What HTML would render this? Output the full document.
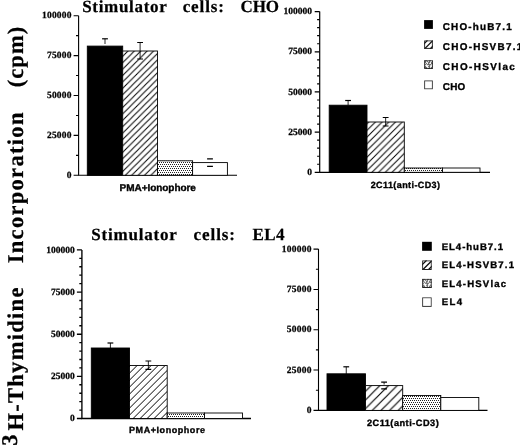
<!DOCTYPE html>
<html lang="en"><head><meta charset="utf-8"><title>3H-Thymidine Incorporation</title>
<style>html,body{margin:0;padding:0;background:#fff}body{width:520px;height:445px;overflow:hidden}svg{display:block}text{text-rendering:geometricPrecision}.se{font-family:'Liberation Serif', 'Times New Roman', serif;font-weight:bold;fill:#000;stroke:#000;stroke-width:.25px}.sa{font-family:'Liberation Sans', Arial, sans-serif;font-weight:bold;fill:#000;stroke:#000;stroke-width:.35px}</style></head><body>
<svg width="520" height="445" viewBox="0 0 520 445">
<defs>
<pattern id="h1" width="6.4" height="6.4" patternUnits="userSpaceOnUse" patternTransform="translate(6.2 0)"><rect width="6.4" height="6.4" fill="#fff"/><path d="M-1.6 1.6L1.6 -1.6M0 6.4L6.4 0M4.8 8L8 4.8" stroke="#000" stroke-width="1.0" fill="none"/></pattern>
<pattern id="h2" width="6.7" height="6.7" patternUnits="userSpaceOnUse" patternTransform="translate(1.6 0)"><rect width="6.7" height="6.7" fill="#fff"/><path d="M-1.68 1.68L1.68 -1.68M0 6.7L6.7 0M5.03 8.38L8.38 5.03" stroke="#000" stroke-width="1.0" fill="none"/></pattern>
<pattern id="h3" width="7.0" height="7.0" patternUnits="userSpaceOnUse" patternTransform="translate(5.6 0)"><rect width="7.0" height="7.0" fill="#fff"/><path d="M-1.75 1.75L1.75 -1.75M0 7.0L7.0 0M5.25 8.75L8.75 5.25" stroke="#000" stroke-width="1.0" fill="none"/></pattern>
<pattern id="h4" width="8.65" height="8.65" patternUnits="userSpaceOnUse" patternTransform="translate(4.25 0)"><rect width="8.65" height="8.65" fill="#fff"/><path d="M-2.16 2.16L2.16 -2.16M0 8.65L8.65 0M6.49 10.81L10.81 6.49" stroke="#000" stroke-width="1.15" fill="none"/></pattern>
<pattern id="d" width="2" height="4" patternUnits="userSpaceOnUse"><rect width="2" height="4" fill="#fff"/><path d="M0 0h1v1h-1zM1 2h1v1h-1z" fill="#222"/></pattern>
<filter id="bl" x="0" y="0" width="520" height="445" filterUnits="userSpaceOnUse"><feGaussianBlur stdDeviation="0.45"/></filter>
</defs>
<rect width="520" height="445" fill="#fff"/>
<g filter="url(#bl)">
<g transform="translate(22.5 0) rotate(-90)">
<text class="se" x="-445.8" y="-6" font-size="22.5" text-anchor="start">3</text>
<text class="se" x="-430.6" y="0" font-size="22.5" text-anchor="start" textLength="143" lengthAdjust="spacing">H-Thymidine</text>
<text class="se" x="-263.3" y="0" font-size="22.5" text-anchor="start" textLength="150.7" lengthAdjust="spacing">Incorporation</text>
<text class="se" x="-87.3" y="0" font-size="22.5" text-anchor="start" textLength="60.5" lengthAdjust="spacing">(cpm)</text>
</g>
<text class="se" x="82.2" y="11.8" font-size="17" text-anchor="start" textLength="84.6" lengthAdjust="spacing">Stimulator</text>
<text class="se" x="182.7" y="11.8" font-size="17" text-anchor="start" textLength="41.2" lengthAdjust="spacing">cells:</text>
<text class="se" x="240.6" y="11.8" font-size="17" text-anchor="start" textLength="38.4" lengthAdjust="spacing">CHO</text>
<text class="se" x="91.3" y="240.4" font-size="17" text-anchor="start" textLength="85.6" lengthAdjust="spacing">Stimulator</text>
<text class="se" x="193.6" y="240.4" font-size="17" text-anchor="start" textLength="41.4" lengthAdjust="spacing">cells:</text>
<text class="se" x="252.6" y="240.4" font-size="17" text-anchor="start" textLength="32" lengthAdjust="spacing">EL4</text>
<path d="M78.6 15.7V175.3H237" fill="none" stroke="#000" stroke-width="1.1"/>
<path d="M73.6 15.7H78.6M76 35.65H78.6M73.6 55.6H78.6M76 75.55H78.6M73.6 95.5H78.6M76 115.45H78.6M73.6 135.4H78.6M76 155.35H78.6M73.6 175.3H78.6" fill="none" stroke="#000" stroke-width="1.1"/>
<text class="se" x="71.5" y="18.3" font-size="9.5" text-anchor="end" textLength="29.5" lengthAdjust="spacing">100000</text>
<text class="se" x="71.5" y="58.2" font-size="9.5" text-anchor="end" textLength="24.58" lengthAdjust="spacing">75000</text>
<text class="se" x="71.5" y="98.1" font-size="9.5" text-anchor="end" textLength="24.58" lengthAdjust="spacing">50000</text>
<text class="se" x="71.5" y="138" font-size="9.5" text-anchor="end" textLength="24.58" lengthAdjust="spacing">25000</text>
<text class="se" x="71.5" y="177.9" font-size="9.5" text-anchor="end">0</text>
<rect x="87.3" y="46.1" width="35.4" height="129.2" fill="#000" stroke="#000" stroke-width="0.9"/>
<rect x="122.7" y="51" width="34.8" height="124.3" fill="url(#h1)" stroke="#000" stroke-width="0.9"/>
<rect x="157.5" y="160.8" width="35.1" height="14.5" fill="url(#d)" stroke="#000" stroke-width="0.9"/>
<rect x="192.6" y="162.6" width="34.8" height="12.7" fill="#fff" stroke="#000" stroke-width="0.9"/>
<path d="M102.1 38.8H107.9" fill="none" stroke="#000" stroke-width="1.2"/>
<path d="M105 38.8V44" fill="none" stroke="#000" stroke-width="0.85"/>
<path d="M137.2 42.5H143M137.2 59H143" fill="none" stroke="#000" stroke-width="1.2"/>
<path d="M140.1 42.5V59" fill="none" stroke="#000" stroke-width="0.85"/>
<path d="M207.1 158.8H212.9M207.1 166.4H212.9" fill="none" stroke="#000" stroke-width="1.2"/>
<text class="sa" x="119.6" y="191" font-size="10" text-anchor="start" textLength="76.3" lengthAdjust="spacing">PMA+Ionophore</text>
<path d="M319.7 11.6V172.3H490" fill="none" stroke="#000" stroke-width="1.2"/>
<path d="M314.7 11.6H319.7M317.1 19.63H319.7M317.1 27.67H319.7M317.1 35.7H319.7M317.1 43.74H319.7M314.7 51.78H319.7M317.1 59.81H319.7M317.1 67.84H319.7M317.1 75.88H319.7M317.1 83.92H319.7M314.7 91.95H319.7M317.1 99.98H319.7M317.1 108.02H319.7M317.1 116.06H319.7M317.1 124.09H319.7M314.7 132.12H319.7M317.1 140.16H319.7M317.1 148.19H319.7M317.1 156.23H319.7M317.1 164.26H319.7M314.7 172.3H319.7" fill="none" stroke="#000" stroke-width="1.2"/>
<text class="se" x="312" y="14.2" font-size="9.5" text-anchor="end" textLength="28.6" lengthAdjust="spacing">100000</text>
<text class="se" x="312" y="54.38" font-size="9.5" text-anchor="end" textLength="23.83" lengthAdjust="spacing">75000</text>
<text class="se" x="312" y="94.55" font-size="9.5" text-anchor="end" textLength="23.83" lengthAdjust="spacing">50000</text>
<text class="se" x="312" y="134.72" font-size="9.5" text-anchor="end" textLength="23.83" lengthAdjust="spacing">25000</text>
<text class="se" x="312" y="174.9" font-size="9.5" text-anchor="end">0</text>
<rect x="329.2" y="105.2" width="37.8" height="67.1" fill="#000" stroke="#000" stroke-width="0.9"/>
<rect x="367" y="122" width="37.3" height="50.3" fill="url(#h2)" stroke="#000" stroke-width="0.9"/>
<rect x="404.3" y="168" width="38.2" height="4.3" fill="url(#d)" stroke="#000" stroke-width="0.9"/>
<rect x="442.5" y="168" width="37.5" height="4.3" fill="#fff" stroke="#000" stroke-width="0.9"/>
<path d="M345.2 100.5H351" fill="none" stroke="#000" stroke-width="1.2"/>
<path d="M348.1 100.5V105" fill="none" stroke="#000" stroke-width="0.85"/>
<path d="M382.75 117.5H388.55M382.75 126H388.55" fill="none" stroke="#000" stroke-width="1.2"/>
<path d="M385.65 117.5V126" fill="none" stroke="#000" stroke-width="0.85"/>
<text class="sa" x="370.7" y="188.4" font-size="9" text-anchor="start" textLength="69.3" lengthAdjust="spacing">2C11(anti-CD3)</text>
<path d="M81.9 249.9V418.5H251" fill="none" stroke="#000" stroke-width="1.35"/>
<path d="M76.9 249.9H81.9M79.3 258.33H81.9M79.3 266.76H81.9M79.3 275.19H81.9M79.3 283.62H81.9M76.9 292.05H81.9M79.3 300.48H81.9M79.3 308.91H81.9M79.3 317.34H81.9M79.3 325.77H81.9M76.9 334.2H81.9M79.3 342.63H81.9M79.3 351.06H81.9M79.3 359.49H81.9M79.3 367.92H81.9M76.9 376.35H81.9M79.3 384.78H81.9M79.3 393.21H81.9M79.3 401.64H81.9M79.3 410.07H81.9M76.9 418.5H81.9" fill="none" stroke="#000" stroke-width="1.35"/>
<text class="se" x="74.8" y="252.5" font-size="9.5" text-anchor="end" textLength="28.6" lengthAdjust="spacing">100000</text>
<text class="se" x="74.8" y="294.65" font-size="9.5" text-anchor="end" textLength="23.83" lengthAdjust="spacing">75000</text>
<text class="se" x="74.8" y="336.8" font-size="9.5" text-anchor="end" textLength="23.83" lengthAdjust="spacing">50000</text>
<text class="se" x="74.8" y="378.95" font-size="9.5" text-anchor="end" textLength="23.83" lengthAdjust="spacing">25000</text>
<text class="se" x="74.8" y="421.1" font-size="9.5" text-anchor="end">0</text>
<rect x="91.3" y="348" width="38.2" height="70.5" fill="#000" stroke="#000" stroke-width="0.9"/>
<rect x="129.5" y="365.5" width="37.7" height="53" fill="url(#h3)" stroke="#000" stroke-width="0.9"/>
<rect x="167.2" y="413" width="37.3" height="5.5" fill="url(#d)" stroke="#000" stroke-width="0.9"/>
<rect x="204.5" y="413" width="38" height="5.5" fill="#fff" stroke="#000" stroke-width="0.9"/>
<path d="M107.5 343H113.3" fill="none" stroke="#000" stroke-width="1.2"/>
<path d="M110.4 343V348" fill="none" stroke="#000" stroke-width="0.85"/>
<path d="M145.45 361H151.25M145.45 369.4H151.25" fill="none" stroke="#000" stroke-width="1.2"/>
<path d="M148.35 361V369.4" fill="none" stroke="#000" stroke-width="0.85"/>
<text class="sa" x="129" y="433.3" font-size="9" text-anchor="start" textLength="76" lengthAdjust="spacing">PMA+Ionophore</text>
<path d="M318.5 249.1V410.4H487.5" fill="none" stroke="#000" stroke-width="1.1"/>
<path d="M313.5 249.1H318.5M315.9 269.26H318.5M313.5 289.43H318.5M315.9 309.59H318.5M313.5 329.75H318.5M315.9 349.91H318.5M313.5 370.07H318.5M315.9 390.24H318.5M313.5 410.4H318.5" fill="none" stroke="#000" stroke-width="1.1"/>
<text class="se" x="311.4" y="251.7" font-size="9.5" text-anchor="end" textLength="29.6" lengthAdjust="spacing">100000</text>
<text class="se" x="311.4" y="292.03" font-size="9.5" text-anchor="end" textLength="24.67" lengthAdjust="spacing">75000</text>
<text class="se" x="311.4" y="332.35" font-size="9.5" text-anchor="end" textLength="24.67" lengthAdjust="spacing">50000</text>
<text class="se" x="311.4" y="372.68" font-size="9.5" text-anchor="end" textLength="24.67" lengthAdjust="spacing">25000</text>
<text class="se" x="311.4" y="413" font-size="9.5" text-anchor="end">0</text>
<rect x="327" y="373.8" width="38.5" height="36.6" fill="#000" stroke="#000" stroke-width="0.9"/>
<rect x="365.5" y="385.6" width="37.2" height="24.8" fill="url(#h4)" stroke="#000" stroke-width="0.9"/>
<rect x="402.7" y="395.5" width="38.1" height="14.9" fill="url(#d)" stroke="#000" stroke-width="0.9"/>
<rect x="440.8" y="397.5" width="38" height="12.9" fill="#fff" stroke="#000" stroke-width="0.9"/>
<path d="M343.35 366.8H349.15" fill="none" stroke="#000" stroke-width="1.2"/>
<path d="M346.25 366.8V374" fill="none" stroke="#000" stroke-width="0.85"/>
<path d="M381.2 382.2H387M381.2 388.9H387" fill="none" stroke="#000" stroke-width="1.2"/>
<path d="M384.1 382.2V384.5" fill="none" stroke="#000" stroke-width="0.85"/>
<text class="sa" x="366.9" y="425.7" font-size="9.2" text-anchor="start" textLength="71.8" lengthAdjust="spacing">2C11(anti-CD3)</text>
<rect x="424.1" y="20.1" width="8.8" height="8.8" fill="#000"/>
<text class="sa" x="442.8" y="30.2" font-size="9.9" text-anchor="start" textLength="68.9" lengthAdjust="spacing">CHO-huB7.1</text>
<svg x="424.1" y="40.3" width="8.8" height="8.6" viewBox="0 0 8.8 8.6">
<path d="M-5.2 8.6L3.4 0M0.4 8.6L9 0M6 8.6L14.6 0" stroke="#111" stroke-width="1.3" fill="none"/>
<rect x="0.5" y="0.5" width="7.8" height="7.6" fill="none" stroke="#222" stroke-width="1"/>
</svg>
<text class="sa" x="442.8" y="50.3" font-size="9.9" text-anchor="start" textLength="79.5" lengthAdjust="spacing">CHO-HSVB7.1</text>
<svg x="424.1" y="60.2" width="8.8" height="8.7" viewBox="0 0 8.8 8.7">
<g fill="#444"><rect x="0" y="0" width="1" height="1"/><rect x="1" y="0" width="1" height="1"/><rect x="2" y="0" width="1" height="1"/><rect x="5" y="0" width="1" height="1"/><rect x="6" y="0" width="1" height="1"/><rect x="8" y="0" width="1" height="1"/><rect x="9" y="0" width="1" height="1"/><rect x="1" y="1" width="1" height="1"/><rect x="3" y="1" width="1" height="1"/><rect x="5" y="1" width="1" height="1"/><rect x="8" y="1" width="1" height="1"/><rect x="1" y="2" width="1" height="1"/><rect x="4" y="2" width="1" height="1"/><rect x="5" y="2" width="1" height="1"/><rect x="7" y="2" width="1" height="1"/><rect x="2" y="3" width="1" height="1"/><rect x="4" y="3" width="1" height="1"/><rect x="7" y="3" width="1" height="1"/><rect x="8" y="3" width="1" height="1"/><rect x="9" y="3" width="1" height="1"/><rect x="1" y="4" width="1" height="1"/><rect x="3" y="4" width="1" height="1"/><rect x="4" y="4" width="1" height="1"/><rect x="5" y="4" width="1" height="1"/><rect x="6" y="4" width="1" height="1"/><rect x="5" y="5" width="1" height="1"/><rect x="1" y="6" width="1" height="1"/><rect x="4" y="6" width="1" height="1"/><rect x="5" y="6" width="1" height="1"/><rect x="8" y="6" width="1" height="1"/><rect x="0" y="7" width="1" height="1"/><rect x="1" y="7" width="1" height="1"/><rect x="2" y="7" width="1" height="1"/><rect x="5" y="7" width="1" height="1"/><rect x="7" y="7" width="1" height="1"/><rect x="9" y="7" width="1" height="1"/><rect x="2" y="8" width="1" height="1"/><rect x="4" y="8" width="1" height="1"/><rect x="5" y="8" width="1" height="1"/><rect x="7" y="8" width="1" height="1"/><rect x="8" y="8" width="1" height="1"/><rect x="9" y="8" width="1" height="1"/><rect x="1" y="9" width="1" height="1"/><rect x="2" y="9" width="1" height="1"/><rect x="4" y="9" width="1" height="1"/><rect x="7" y="9" width="1" height="1"/><rect x="8" y="9" width="1" height="1"/><rect x="9" y="9" width="1" height="1"/></g>
<rect x="0.5" y="0.5" width="7.8" height="7.7" fill="none" stroke="#222" stroke-width="1"/>
</svg>
<text class="sa" x="442.8" y="70.4" font-size="9.9" text-anchor="start" textLength="72" lengthAdjust="spacing">CHO-HSVlac</text>
<svg x="424.1" y="80.3" width="8.8" height="9.1" viewBox="0 0 8.8 9.1">
<rect x="0.5" y="0.5" width="7.8" height="8.1" fill="none" stroke="#333" stroke-width="1"/>
</svg>
<text class="sa" x="442.8" y="90.3" font-size="9.9" text-anchor="start" textLength="22.4" lengthAdjust="spacing">CHO</text>
<rect x="422.1" y="241.8" width="9.7" height="9" fill="#000"/>
<text class="sa" x="441.7" y="249.9" font-size="9.6" text-anchor="start" textLength="61.3" lengthAdjust="spacing">EL4-huB7.1</text>
<svg x="422.1" y="260.3" width="9.7" height="9.7" viewBox="0 0 9.7 9.7">
<path d="M-5.2 9.7L4.5 0M0.4 9.7L10.1 0M6 9.7L15.7 0" stroke="#111" stroke-width="1.3" fill="none"/>
<rect x="0.5" y="0.5" width="8.7" height="8.7" fill="none" stroke="#222" stroke-width="1"/>
</svg>
<text class="sa" x="441.7" y="268.3" font-size="9.6" text-anchor="start" textLength="72.3" lengthAdjust="spacing">EL4-HSVB7.1</text>
<svg x="422.1" y="278.7" width="9.7" height="9.3" viewBox="0 0 9.7 9.3">
<g fill="#444"><rect x="0" y="0" width="1" height="1"/><rect x="1" y="0" width="1" height="1"/><rect x="2" y="0" width="1" height="1"/><rect x="5" y="0" width="1" height="1"/><rect x="6" y="0" width="1" height="1"/><rect x="8" y="0" width="1" height="1"/><rect x="9" y="0" width="1" height="1"/><rect x="1" y="1" width="1" height="1"/><rect x="3" y="1" width="1" height="1"/><rect x="5" y="1" width="1" height="1"/><rect x="8" y="1" width="1" height="1"/><rect x="1" y="2" width="1" height="1"/><rect x="4" y="2" width="1" height="1"/><rect x="5" y="2" width="1" height="1"/><rect x="7" y="2" width="1" height="1"/><rect x="2" y="3" width="1" height="1"/><rect x="4" y="3" width="1" height="1"/><rect x="7" y="3" width="1" height="1"/><rect x="8" y="3" width="1" height="1"/><rect x="9" y="3" width="1" height="1"/><rect x="1" y="4" width="1" height="1"/><rect x="3" y="4" width="1" height="1"/><rect x="4" y="4" width="1" height="1"/><rect x="5" y="4" width="1" height="1"/><rect x="6" y="4" width="1" height="1"/><rect x="5" y="5" width="1" height="1"/><rect x="1" y="6" width="1" height="1"/><rect x="4" y="6" width="1" height="1"/><rect x="5" y="6" width="1" height="1"/><rect x="8" y="6" width="1" height="1"/><rect x="0" y="7" width="1" height="1"/><rect x="1" y="7" width="1" height="1"/><rect x="2" y="7" width="1" height="1"/><rect x="5" y="7" width="1" height="1"/><rect x="7" y="7" width="1" height="1"/><rect x="9" y="7" width="1" height="1"/><rect x="2" y="8" width="1" height="1"/><rect x="4" y="8" width="1" height="1"/><rect x="5" y="8" width="1" height="1"/><rect x="7" y="8" width="1" height="1"/><rect x="8" y="8" width="1" height="1"/><rect x="9" y="8" width="1" height="1"/><rect x="1" y="9" width="1" height="1"/><rect x="2" y="9" width="1" height="1"/><rect x="4" y="9" width="1" height="1"/><rect x="7" y="9" width="1" height="1"/><rect x="8" y="9" width="1" height="1"/><rect x="9" y="9" width="1" height="1"/></g>
<rect x="0.5" y="0.5" width="8.7" height="8.3" fill="none" stroke="#222" stroke-width="1"/>
</svg>
<text class="sa" x="441.7" y="286.8" font-size="9.6" text-anchor="start" textLength="64.4" lengthAdjust="spacing">EL4-HSVlac</text>
<svg x="422.1" y="297.2" width="9.7" height="9.7" viewBox="0 0 9.7 9.7">
<rect x="0.5" y="0.5" width="8.7" height="8.7" fill="none" stroke="#333" stroke-width="1"/>
</svg>
<text class="sa" x="441.7" y="305.3" font-size="9.6" text-anchor="start" textLength="20.4" lengthAdjust="spacing">EL4</text>
</g>
</svg></body></html>
